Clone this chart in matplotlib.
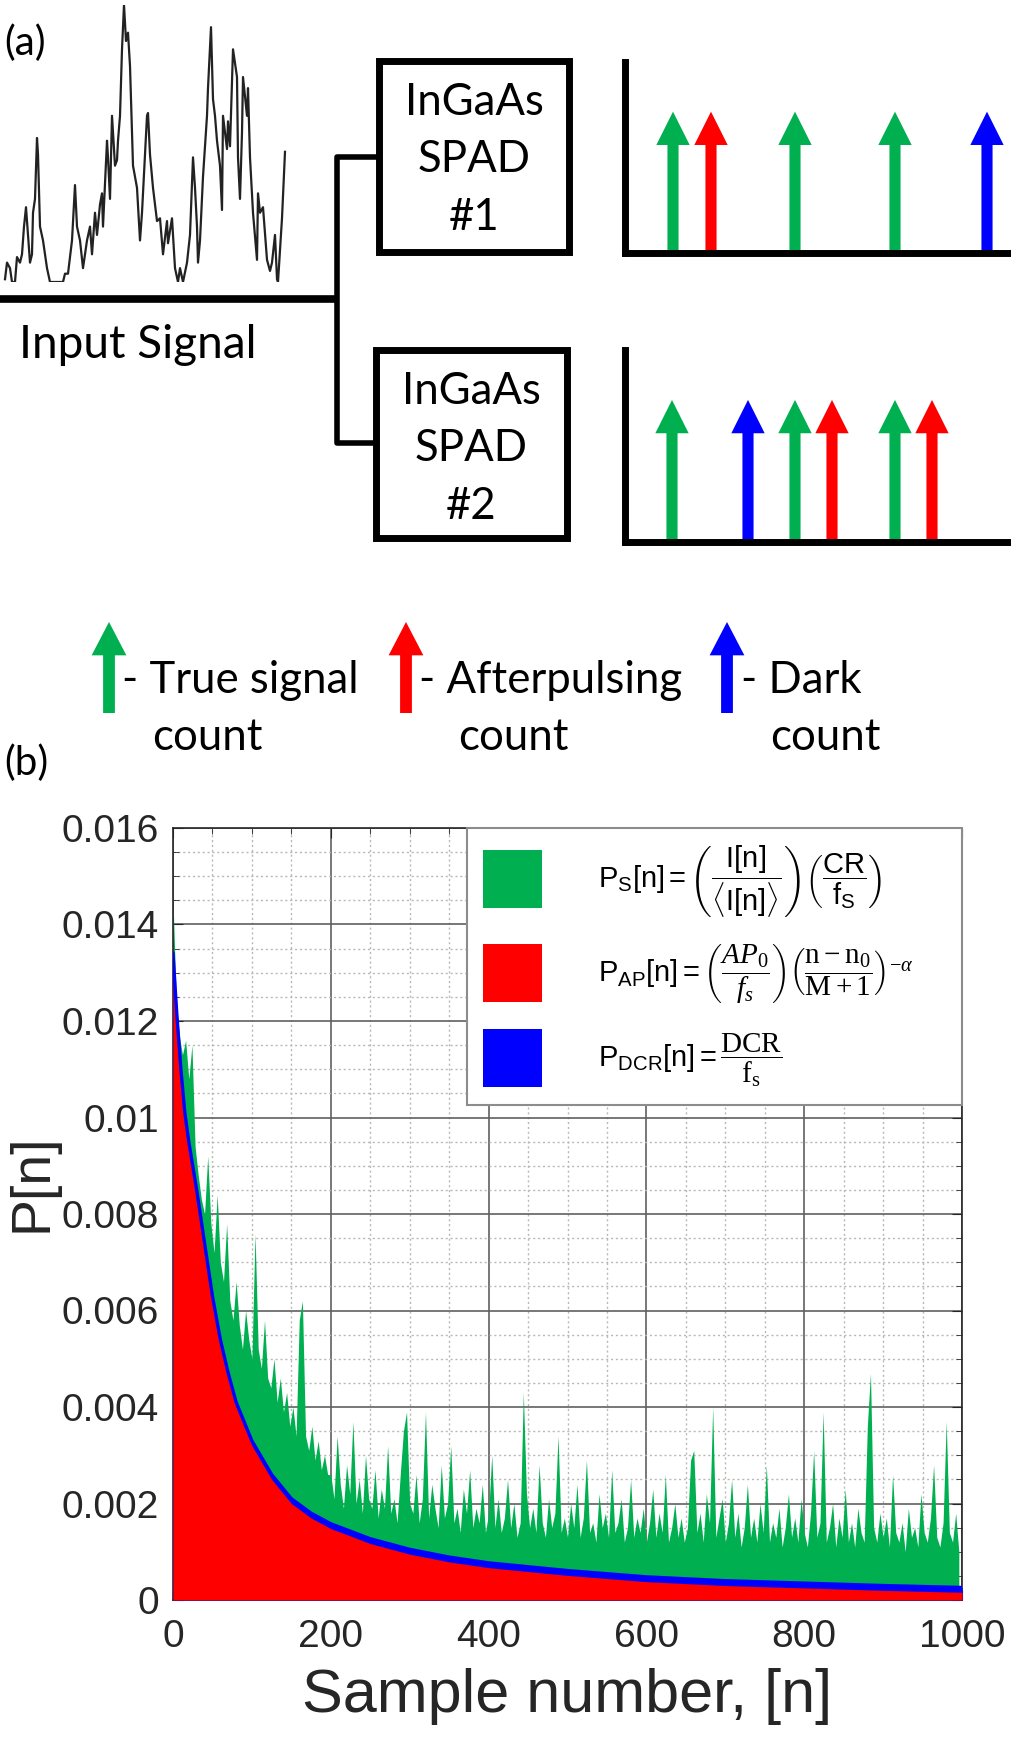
import numpy as np
import matplotlib.pyplot as plt
from matplotlib.patches import Rectangle, FancyArrowPatch, Patch, ArrowStyle
from matplotlib.ticker import MultipleLocator, FuncFormatter

plt.rcParams['font.family'] = ['Liberation Sans', 'DejaVu Sans']
plt.rcParams['mathtext.fontset'] = 'custom'
plt.rcParams['mathtext.rm'] = 'Liberation Serif'
plt.rcParams['mathtext.it'] = 'Liberation Serif:italic'
plt.rcParams['mathtext.sf'] = 'Liberation Sans'

# ---------------- data ----------------
# input signal trace (a.u.)
sig_t = [5, 7, 10, 12, 15, 17, 20, 22, 24, 26, 28, 30, 32, 33, 35, 37, 38, 40, 43, 47,
         50, 63, 65, 68, 72, 75, 77, 80, 83, 87, 90, 92, 95, 97, 100, 102, 103, 107, 108, 110,
         112, 115, 117, 118, 120, 122, 124, 126, 128, 130, 133, 137, 140, 142, 143, 147, 148, 150, 153, 157,
         160, 163, 167, 168, 172, 175, 178, 180, 183, 187, 190, 193, 195, 197, 198, 200, 203, 207, 208, 211,
         213, 215, 217, 220, 222, 223, 227, 228, 230, 233, 237, 238, 240, 242, 243, 247, 248, 250, 253, 257,
         258, 260, 263, 267, 270, 272, 275, 277, 278, 282, 285]
sig_a = [.01, .07, .05, 0, 0, .09, .07, .10, .20, .27, .17, .07, .10, .25, .30, .52, .46, .20, .15, .05,
         0, 0, .03, .03, .15, .35, .20, .15, .05, .15, .20, .10, .25, .17, .28, .32, .20, .51, .45, .30,
         .60, .42, .44, .51, .60, .84, 1.0, .87, .90, .78, .42, .34, .15, .25, .32, .60, .61, .46, .34, .22,
         .23, .10, .22, .14, .23, .05, 0, .05, 0, .07, .17, .45, .34, .20, .07, .15, .38, .60, .70, .92,
         .66, .60, .51, .42, .26, .60, .48, .58, .49, .84, .74, .45, .30, .54, .74, .60, .70, .45, .25, .08,
         .32, .25, .27, .08, .04, .07, .17, .01, 0, .23, .47]

# detected events (time a.u.) and their kind
spad1_t = [4.8, 8.6, 17.0, 27.0, 36.2]
spad1_kind = ['S', 'AP', 'S', 'S', 'DC']
spad2_t = [4.7, 12.3, 17.0, 20.7, 27.0, 30.7]
spad2_kind = ['S', 'DC', 'S', 'AP', 'S', 'AP']
kind_color = {'S': '#00b050', 'AP': '#ff0000', 'DC': '#0000ff'}

# panel (b): afterpulsing + dark count probability (top of blue band)
ap_n = [0, 5, 10, 15, 20, 30, 40, 50, 60, 70, 80, 100, 125, 150, 175, 200, 250, 300, 350,
        400, 500, 600, 700, 800, 900, 1000]
ap_dcr = [.0134, .0121, .0110, .0101, .0095, .0085, .0074, .0063, .0054, .0047, .0041, .0033,
          .0026, .0021, .00180, .00158, .00127, .00105, .00089, .00077, .00061, .00048, .00040,
          .00035, .00030, .00026]
dcr = 0.0001
# total probability incl. signal, every 4th sample
green_top = [
    .0145, .0125, .0117, .0113, .0116, .0108, .0115, .0094, .0088, .0083,
    .0080, .0092, .0078, .0072, .0084, .0070, .0066, .0078, .0062, .0058,
    .0066, .0057, .0052, .0060, .0054, .0050, .0076, .0052, .0048, .0058,
    .0046, .0044, .0050, .0041, .0046, .0039, .0043, .0036, .0040, .0034,
    .0058, .0062, .0034, .0031, .0036, .0029, .0033, .0027, .0030, .0026,
    .0026, .0021, .0034, .0024, .0019, .0028, .0022, .0037, .0020, .0025,
    .0018, .0030, .0021, .0019, .0027, .0017, .0023, .0019, .0032, .0018,
    .0021, .0016, .0026, .0035, .0039,
    .0020, .0018, .0026, .0016, .0021, .0039, .0017, .0024, .0019, .0015,
    .0028, .0017, .0020, .0032, .0016, .0019, .0014, .0023, .0018, .0027,
    .0015, .0019, .0016, .0024, .0014,
    .0018, .0030, .0015, .0021, .0014, .0017, .0025, .0015, .0020, .0013,
    .0016, .0043, .0022, .0015, .0019, .0014, .0028, .0016, .0013, .0021,
    .0015, .0018, .0034, .0014, .0017,
    .0013, .0020, .0015, .0024, .0013, .0017, .0029, .0014, .0016, .0012,
    .0022, .0015, .0018, .0013, .0027, .0014, .0016, .0021, .0012, .0015,
    .0025, .0013, .0017, .0014, .0019,
    .0012, .0016, .0023, .0013, .0018, .0014, .0026, .0012, .0015, .0020,
    .0013, .0017, .0012, .0015, .0029, .0031, .0014, .0018, .0012, .0022,
    .0016, .0040, .0013, .0017, .0021,
    .0012, .0016, .0025, .0013, .0018, .0011, .0015, .0024, .0013, .0017,
    .0012, .0020, .0014, .0028, .0012, .0016, .0013, .0019, .0011, .0015,
    .0022, .0013, .0017, .0012, .0021,
    .0014, .0011, .0018, .0031, .0013, .0016, .0039, .0012, .0015, .0020,
    .0011, .0017, .0013, .0023, .0012, .0016, .0011, .0019, .0014, .0012,
    .0036, .0047, .0015, .0012, .0018,
    .0013, .0017, .0011, .0026, .0014, .0012, .0016, .0010, .0019, .0013,
    .0015, .0011, .0022, .0014, .0012, .0017, .0028, .0013, .0011, .0016,
    .0037, .0014, .0012, .0018, .0010]
green_n = np.arange(len(green_top)) * 4

W, H = 1011, 1739
fig = plt.figure(figsize=(W / 100, H / 100), dpi=100)

TXT = 'Lato'
GREEN, RED, BLUE = kind_color['S'], kind_color['AP'], kind_color['DC']


def px_axes(x0, y0, x1, y1, **kw):
    return fig.add_axes([x0 / W, 1 - y1 / H, (x1 - x0) / W, (y1 - y0) / H], **kw)


def arrow_style(hw, hl, tw):
    return ArrowStyle.Simple(head_length=hl, head_width=hw, tail_width=tw)


# ---------------- panel (a) ----------------
ov = fig.add_axes([0, 0, 1, 1], zorder=5)
ov.set_xlim(0, W)
ov.set_ylim(H, 0)
ov.axis('off')

axs = px_axes(0, 5, 340, 282)
axs.plot(sig_t, sig_a, color='#222222', lw=1.6)
axs.set_xlim(0, 340)
axs.set_ylim(0, 1)
axs.axis('off')

ov.text(4, 55, '(a)', fontsize=29, family=TXT, va='baseline')
ov.plot([0, 337], [299, 299], color='k', lw=5.5, solid_capstyle='butt')
ov.plot([378, 337, 337, 376], [157, 157, 443, 443], color='k', lw=4,
        solid_joinstyle='round')
ov.text(138, 358, 'Input Signal', fontsize=33, family=TXT, ha='center', va='baseline')

for (x0, y0, x1, y1), lab in [((379, 61, 569, 252), '#1'), ((376, 350, 567, 538), '#2')]:
    ov.add_patch(Rectangle((x0, y0), x1 - x0, y1 - y0, fill=False, lw=5, ec='k'))
    cx = (x0 + x1) / 2
    for dy, s in [(54, 'InGaAs'), (111, 'SPAD'), (169, lab)]:
        ov.text(cx, y0 + dy, s, fontsize=31.5, family=TXT, ha='center', va='baseline')

for (y0, y1), ts, ks in [((62, 253), spad1_t, spad1_kind), ((350, 542), spad2_t, spad2_kind)]:
    ax = px_axes(625, y0, 1009, y1)
    ax.set_xlim(0, 38.4)
    ax.set_ylim(0, 1)
    for s in ['top', 'right']:
        ax.spines[s].set_visible(False)
    for s in ['left', 'bottom']:
        ax.spines[s].set_linewidth(5)
        ax.spines[s].set_capstyle('projecting')
    ax.set_xticks([])
    ax.set_yticks([])
    ax.patch.set_alpha(0)
    for t, k in zip(ts, ks):
        ax.add_patch(FancyArrowPatch((t, 0), (t, 0.74), arrowstyle=arrow_style(24, 24, 8),
                                     mutation_scale=1, color=kind_color[k], lw=0,
                                     shrinkA=0, shrinkB=0))

# legend of the arrows
for x, k, t1, x1, x2 in [(109, 'S', '- True signal', 122, 152),
                         (406, 'AP', '- Afterpulsing', 419, 458),
                         (727, 'DC', '- Dark', 741, 770)]:
    ov.add_patch(FancyArrowPatch((x, 713), (x, 622), arrowstyle=arrow_style(25, 24, 8.5),
                                 mutation_scale=1, color=kind_color[k], lw=0,
                                 shrinkA=0, shrinkB=0))
    ov.text(x1, 693, t1, fontsize=31.5, family=TXT, va='baseline')
    ov.text(x2, 750, 'count', fontsize=31.5, family=TXT, va='baseline')

ov.text(4, 775, '(b)', fontsize=29, family=TXT, va='baseline')

# ---------------- panel (b) ----------------
axb = px_axes(173, 828, 962, 1600)
ap_dcr = np.array(ap_dcr)
axb.fill_between(green_n, 0, green_top, color=GREEN, lw=0, zorder=2)
axb.fill_between(ap_n, 0, ap_dcr, color=BLUE, lw=0, zorder=3)
axb.fill_between(ap_n, 0, ap_dcr - dcr, color=RED, lw=0, zorder=4)
axb.plot(ap_n, ap_dcr, color=BLUE, lw=2.4, zorder=5)

axb.set_xlim(0, 1000)
axb.set_ylim(0, 0.016)
axb.set_xticks(np.arange(0, 1001, 200))
axb.set_yticks(np.arange(0, 0.0161, 0.002))
axb.xaxis.set_minor_locator(MultipleLocator(50))
axb.yaxis.set_minor_locator(MultipleLocator(0.0005))
axb.yaxis.set_major_formatter(FuncFormatter(lambda v, p: '%g' % round(v, 4)))
axb.set_axisbelow(True)
axb.grid(which='major', color='#606060', lw=1.2, ls='-')
axb.grid(which='minor', color='#b8b8b8', lw=1.0, ls=(0, (1.5, 2)))
axb.tick_params(which='both', direction='in', top=True, right=True, colors='#262626',
                labelsize=28, pad=10)
axb.tick_params(axis='x', which='major', pad=14)
axb.tick_params(which='major', length=7)
axb.tick_params(which='minor', length=4)
for s in axb.spines.values():
    s.set_color('#262626')
    s.set_linewidth(1.2)
axb.set_xlabel('Sample number, [n]', fontsize=44, color='#262626')
axb.set_ylabel('P[n]', fontsize=40, color='#262626')
axb.xaxis.set_label_coords(0.5, -0.088)
axb.yaxis.set_label_coords(-0.145, 0.54)

labels = [
    r'$\mathsf{P_{S}[n]{=}}\left(\dfrac{\mathsf{I[n]}}{\langle\mathsf{I[n]}\rangle}\right)'
    r'\left(\dfrac{\mathsf{CR}}{\mathsf{f_{S}}}\right)$',
    r'$\mathsf{P_{AP}[n]{=}}\left(\dfrac{AP_0}{f_s}\right)'
    r'\left(\dfrac{\mathrm{n-n_0}}{\mathrm{M+1}}\right)^{-\alpha}$',
    r'$\mathsf{P_{DCR}[n]{=}}\dfrac{\mathrm{DCR}}{\mathrm{f_s}}$',
]
handles = [Patch(fc=GREEN, ec='none'), Patch(fc=RED, ec='none'), Patch(fc=BLUE, ec='none')]
leg = axb.legend(handles, labels, loc='upper left', bbox_to_anchor=(0.373, 0, 0.627, 1),
                 mode='expand', borderaxespad=0, fontsize=21, handlelength=2.02,
                 handleheight=2.68, handletextpad=1.9, labelspacing=0.78, borderpad=0.55,
                 fancybox=False, framealpha=1, edgecolor='#8c8c8c')
leg.get_frame().set_linewidth(1.5)
leg.set_zorder(10)

fig.savefig('out.png', dpi=100)
